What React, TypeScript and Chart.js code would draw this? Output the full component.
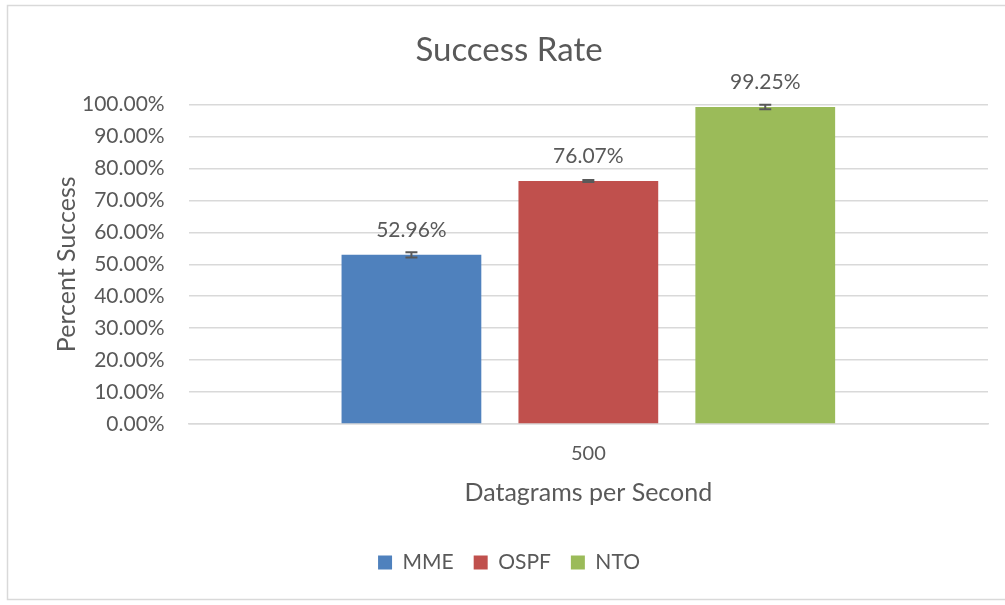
import React, { useEffect, useRef } from "react";
import { Chart, registerables } from "chart.js";

Chart.register(...registerables);

const categories = ["500"];
const seriesNames = ["MME", "OSPF", "NTO"];
const seriesValues = [52.96, 76.07, 99.25];
const seriesErrors = [0.8, 0.3, 0.7];
const seriesColors = ["#4F81BD", "#C0504D", "#9BBB59"];
const yTickMax = 100;
const yTickStep = 10;

const FONT = "Lato, 'Open Sans', sans-serif";
const TEXT = "#595959";

const borderPlugin = {
  id: "outerBorder",
  beforeDraw(chart: any) {
    const ctx = chart.ctx;
    ctx.save();
    ctx.fillStyle = "#ffffff";
    ctx.fillRect(0, 0, chart.width, chart.height);
    ctx.strokeStyle = "#D9D9D9";
    ctx.lineWidth = 1.5;
    ctx.strokeRect(7.5, 5.5, 1010, 594);
    ctx.restore();
  },
};

const errorAndLabelPlugin = {
  id: "errorAndLabel",
  afterDatasetsDraw(chart: any) {
    const ctx = chart.ctx;
    const yScale = chart.scales.y;
    chart.data.datasets.forEach((ds: any, di: number) => {
      const meta = chart.getDatasetMeta(di);
      meta.data.forEach((bar: any, i: number) => {
        const v = ds.data[i];
        const e = ds.errors[i];
        const x = bar.x;
        const yTop = yScale.getPixelForValue(v + e);
        const yBot = yScale.getPixelForValue(v - e);
        ctx.save();
        ctx.strokeStyle = "#595959";
        ctx.lineWidth = 2;
        ctx.beginPath();
        ctx.moveTo(x, yTop);
        ctx.lineTo(x, yBot);
        ctx.moveTo(x - 6, yTop);
        ctx.lineTo(x + 6, yTop);
        ctx.moveTo(x - 6, yBot);
        ctx.lineTo(x + 6, yBot);
        ctx.stroke();
        ctx.fillStyle = TEXT;
        ctx.font = `21px ${FONT}`;
        ctx.textAlign = "center";
        ctx.textBaseline = "middle";
        ctx.fillText(v.toFixed(2) + "%", x, bar.y - 25);
        ctx.restore();
      });
    });
  },
};

export default function App() {
  const ref = useRef<HTMLCanvasElement>(null);
  useEffect(() => {
    if (!ref.current) return;
    const chart = new Chart(ref.current, {
      type: "bar",
      data: {
        labels: categories,
        datasets: seriesNames.map((name, i) => ({
          label: name,
          data: [seriesValues[i]],
          errors: [seriesErrors[i]],
          backgroundColor: seriesColors[i],
          borderWidth: 0,
          categoryPercentage: 0.664,
          barPercentage: 0.79,
        })) as any,
      },
      options: {
        responsive: false,
        animation: false,
        layout: { padding: { left: 30, right: 17, top: 18, bottom: 22 } },
        plugins: {
          title: {
            display: true,
            text: "Success Rate",
            color: TEXT,
            font: { family: FONT, size: 33, weight: "normal" },
            padding: { top: 13, bottom: 34 },
          },
          legend: {
            position: "bottom",
            labels: {
              color: TEXT,
              font: { family: FONT, size: 21 },
              boxWidth: 14,
              boxHeight: 14,
              padding: 20,
            },
          },
          tooltip: { enabled: false },
        },
        scales: {
          x: {
            grid: { display: false, drawTicks: false },
            border: { display: true, color: "#D9D9D9", width: 1.5 },
            ticks: { color: TEXT, font: { family: FONT, size: 20 }, padding: 18 },
            title: {
              display: true,
              text: "Datagrams per Second",
              color: TEXT,
              font: { family: FONT, size: 25 },
              padding: { top: -6, bottom: 24 },
            },
          },
          y: {
            min: 0,
            max: yTickMax,
            grid: { color: "#D9D9D9", lineWidth: 1.5, drawTicks: false },
            border: { display: false },
            ticks: {
              stepSize: yTickStep,
              color: TEXT,
              font: { family: FONT, size: 21 },
              padding: 24,
              callback: (v: any) => Number(v).toFixed(2) + "%",
            },
            title: {
              display: true,
              text: "Percent Success",
              color: TEXT,
              font: { family: FONT, size: 25 },
              padding: { top: 22, bottom: -24 },
            },
          },
        },
      },
      plugins: [borderPlugin, errorAndLabelPlugin],
    });
    return () => chart.destroy();
  }, []);
  return (
    <div style={{ position: "absolute", left: 0, top: 0, width: 1005, height: 605 }}>
      <canvas ref={ref} width={1005} height={605} />
    </div>
  );
}
